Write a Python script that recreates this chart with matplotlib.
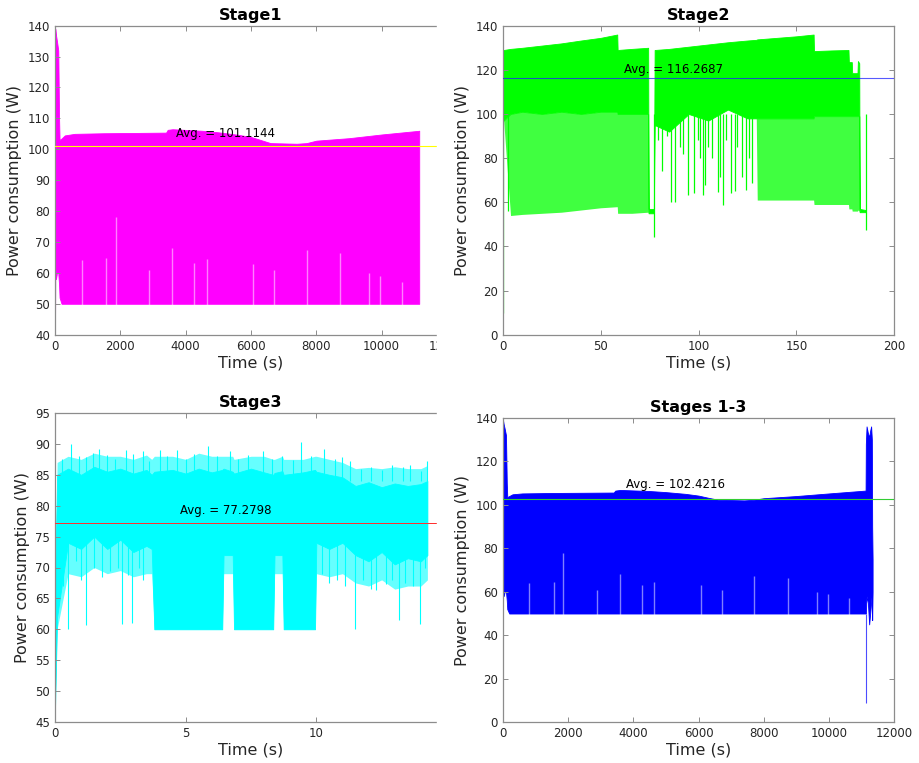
import matplotlib
matplotlib.use("Agg")
import matplotlib.pyplot as plt
from matplotlib.patches import Rectangle
from matplotlib.transforms import Bbox, TransformedBbox

# ---- Stage1 (magenta) ----
s1_t = [0, 8, 30, 60, 100, 125, 140, 200, 300, 600, 1500, 2500, 3400, 3450, 3600,
        4500, 5000, 5600, 6000, 6300, 6600, 7400, 7700, 8000, 9000, 10000, 11150]
s1_hi = [130, 139, 137, 135, 132, 110, 103, 103.5, 104.5, 105, 105.2, 105.3, 105.4, 106.3, 106.5,
         106, 105.5, 104.7, 104, 103, 102, 101.8, 102, 102.8, 103.6, 104.8, 106]
s1_lo = [40, 60, 58, 60, 60, 56, 52, 50, 50, 50, 50, 50, 50, 50, 50,
         50, 50, 50, 50, 50, 50, 50, 50, 50, 50, 50, 50]
s1_avg = 101.1144
# light streaks rising from the 50 W floor (shared by Stage1 and Stages 1-3)
spk_t = [817, 1562, 1858, 2879, 3593, 4266, 4645, 6074, 6707, 7708, 8729, 9617, 9954, 10618]
spk_v = [64.2, 64.7, 78, 61, 68, 63.1, 64.6, 63, 61, 67.4, 66.3, 59.9, 59, 57]

# ---- Stage2 (green) ----
s2_t = [0, 0.5, 4, 10, 20, 30, 40, 50, 58.5, 58.7, 66, 74.3, 74.5, 77.2, 77.6, 85, 95, 105,
        115, 125, 129.5, 130, 140, 150, 158.8, 159, 168, 176.6, 176.8, 178.3, 178.5, 181.2,
        181.4, 182.1, 182.3, 185.3]
s2_hi = [128, 129, 129.5, 130, 131, 132, 133.3, 134.5, 136, 129, 129.5, 130, 57, 57, 129, 129.5,
         130.5, 131.5, 132.5, 133.3, 133.6, 133.8, 134.5, 135.2, 136, 128.5, 128.8, 129, 123.5,
         123.5, 118.5, 118.5, 124, 123, 57, 56.5]
s2_mid = [97, 97, 100, 101, 100, 101, 100, 101, 101, 100, 100, 100, 55, 55, 95, 92, 100, 97,
          102, 98, 98, 98, 98, 98, 98, 99, 99, 99, 99, 99, 99, 99, 99, 99, 55.5, 55.5]
s2_lo = [97, 97, 54, 54.5, 55, 55.5, 56.5, 57.5, 58, 55, 55, 55.5, 55, 55, 95, 92, 100, 97,
         102, 98, 98, 61, 61, 61, 61, 59, 59, 59, 57, 57, 56, 56, 56.5, 56, 55.5, 55.5]
s2_spk_t = [0.2, 2.5, 77.2, 79.5, 81.5, 84, 86, 88, 90.5, 92, 94.8, 97.9, 99.5, 101, 102.1, 103.3,
            105, 107, 110, 110.8, 112.3, 114, 116.4, 118.6, 119.7, 122.3, 124.5, 126, 127.1, 185.3]
s2_spk_v = [10, 56, 44.4, 88, 74, 90, 60.3, 60.3, 85, 82, 63.3, 64, 88, 80, 63.3, 67.7,
            85, 80, 64.8, 71.6, 58.8, 88, 64, 65, 85.2, 71.6, 65.6, 80, 68.6, 47.4]
s2_avg = 116.2687

# ---- Stage3 (cyan) ----
s3_t = [0, 0.08, 0.5, 1, 1.5, 2, 2.5, 3, 3.5, 3.7, 3.8, 4.5, 5, 5.5, 6, 6.4, 6.45, 6.8, 6.85,
        7.5, 8, 8.35, 8.4, 8.7, 8.75, 9.5, 9.95, 10.0, 10.5, 11, 11.5, 12, 12.5, 13, 13.5, 14, 14.25]
s3_hi = [66, 85, 86, 85, 86.3, 85.5, 86, 85.2, 85.8, 85, 85.5, 85.8, 85.2, 86, 85.4, 85.8, 86,
         85.5, 85.2, 86, 85.4, 85, 85.3, 85.6, 85, 85.4, 85.8, 85.5, 85, 84.6, 83.2, 83.8, 83, 83.6,
         83.2, 83.5, 84]
s3_lo = [47, 62, 74, 73, 75, 73, 74.5, 72.5, 73.5, 73, 60, 60, 60, 60, 60, 60, 72, 72, 60,
         60, 60, 60, 72, 72, 60, 60, 60, 74, 73, 74, 72, 71, 72.5, 70.5, 71.5, 71, 72]
# outer, sparser band of the noise
s3_fz_hi = [66, 87, 88, 87.5, 88.5, 88, 88, 87.5, 88.2, 87.5, 88, 88, 87.5, 88.5, 88, 88, 88,
            88, 87.5, 88, 88, 87.5, 87.5, 88, 87.5, 87.5, 88, 88, 87.5, 87, 86, 86.2, 86, 86.3,
            86, 86, 86.5]
s3_fz_lo = [47, 60, 69, 68.5, 70, 69, 69.5, 68.5, 69, 69, 60, 60, 60, 60, 60, 60, 69, 69, 60,
            60, 60, 60, 69, 69, 60, 60, 60, 69, 68.5, 69, 67.5, 67, 68, 66.5, 67, 67, 68]
s3_up_t = [0.25, 0.6, 0.9, 1.2, 1.45, 1.7, 2.0, 2.3, 2.7, 3.0, 3.35, 3.6, 4.0, 4.3, 4.65, 5.0,
           5.3, 5.85, 6.2, 6.7, 7.0, 7.4, 7.95, 8.3, 8.7, 9.1, 9.4, 9.8, 10.3, 10.7, 11.0, 11.3,
           11.7, 12.1, 12.5, 12.9, 13.3, 13.6, 14.0, 14.22]
s3_up_v = [87.5, 90, 88, 87.8, 88.5, 89.2, 88.2, 87.6, 89, 88.4, 88.8, 87.3, 89, 88, 89, 87.5,
           88.3, 89.7, 88, 88.8, 87.5, 88.2, 88.8, 87.6, 88, 87.4, 90.3, 88, 89.2, 87.6, 87.8, 87.3,
           86, 86.3, 85.8, 86.6, 86.2, 86.6, 85.6, 87.3]
s3_dn_t = [0.3, 0.48, 0.8, 1.0, 1.19, 1.5, 1.8, 2.1, 2.4, 2.58, 2.8, 2.96, 3.2, 3.38, 10.2, 10.5,
           10.8, 11.1, 11.48, 11.8, 12.1, 12.3, 12.65, 12.9, 13.18, 13.4, 13.7, 13.97, 14.15]
s3_dn_v = [67, 60, 71, 68, 60.7, 70, 68.5, 69.5, 70, 60.8, 68.8, 61, 70, 68, 69, 67.5,
           68, 67, 60, 68, 66.5, 66.4, 67.3, 68, 61.5, 67.5, 67, 60.8, 70]
s3_avg = 77.2798

# ---- Stages 1-3 (blue) ----
s13_t = [0, 8, 30, 60, 100, 125, 140, 200, 300, 600, 1500, 2500, 3400, 3450, 3600, 4500, 5000,
         5600, 6000, 6300, 6600, 7400, 7700, 8000, 9000, 10000, 11120, 11128, 11150, 11190,
         11230, 11260, 11290, 11312, 11322, 11335]
s13_hi = [132, 139, 137, 135, 132, 110, 103.5, 104, 104.8, 105.2, 105.4, 105.5, 105.6, 106.5,
          106.8, 106.3, 105.8, 105, 104.2, 103.2, 102.3, 102, 102.3, 103, 104, 105.2, 106.5,
          128, 136, 133, 131, 134, 136, 130, 90, 75]
s13_lo = [43, 60, 58, 60, 60, 56, 52, 50, 50, 50, 50, 50, 50, 50, 50, 50, 50, 50, 50, 50, 50,
          50, 50, 50, 50, 50, 50, 50, 58, 55, 45, 50, 55, 60, 47, 60]
s13_dip_t = [11135]
s13_dip_v = [9]
s13_avg = 102.4216

fig = plt.figure(figsize=(9.19, 7.63), dpi=100)
H = 763.0
W = 919.0
# the left panels were cut off at x = 437 px in the source image
cut_box = TransformedBbox(Bbox.from_extents(0, 0, 437 / W, 1), fig.transFigure)


def make_ax(x0, x1, y0, y1):
    return fig.add_axes([x0 / W, 1 - y1 / H, (x1 - x0) / W, (y1 - y0) / H])


def style(ax, title, xlim, ylim, xticks, yticks, cut=False):
    ax.set_xlim(xlim)
    ax.set_ylim(ylim)
    ax.set_xticks(xticks)
    ax.set_yticks(yticks)
    ax.tick_params(direction="in", top=True, right=True, length=3.5, width=0.7,
                   colors="#8c8c8c", labelcolor="#262626", labelsize=8.5)
    for s in ax.spines.values():
        s.set_color("#8c8c8c")
        s.set_linewidth(0.9)
    ax.set_title(title, fontsize=11.5, fontweight="bold", pad=4)
    ax.set_xlabel("Time (s)", fontsize=11.5, color="#262626", labelpad=2)
    ax.set_ylabel("Power consumption (W)", fontsize=11.5, color="#262626")
    if cut:
        for lbl in ax.get_xticklabels():
            lbl.set_clip_box(cut_box)
            lbl.set_clip_on(True)


# Stage1
ax1 = make_ax(55, 447, 25.7, 334.7)
ax1.fill_between(s1_t, s1_lo, s1_hi, color="#ff00ff", lw=0.6)
ax1.vlines(spk_t, 49.5, spk_v, colors="white", lw=1.0, alpha=0.5)
ax1.axhline(s1_avg, color="#ffff00", lw=0.8, zorder=5)
ax1.text(3700, 105, "Avg. = %.4f" % s1_avg, fontsize=8.5, va="center")
style(ax1, "Stage1", (0, 12000), (40, 140), range(0, 12001, 2000), range(40, 141, 10), cut=True)

# Stage2
ax2 = make_ax(502.7, 894.3, 25.7, 334.7)
ax2.fill_between(s2_t, s2_lo, s2_mid, color="#00ff00", alpha=0.75, lw=0)
ax2.fill_between(s2_t, s2_mid, s2_hi, color="#00ff00", lw=0.6)
ax2.vlines(s2_spk_t, s2_spk_v, [100] * len(s2_spk_t), colors="#00ff00", lw=0.9)
ax2.axhline(s2_avg, color="#2020ff", lw=0.8, alpha=0.75, zorder=5)
ax2.text(62, 120.2, "Avg. = %.4f" % s2_avg, fontsize=8.5, va="center")
style(ax2, "Stage2", (0, 200), (0, 140), range(0, 201, 50), range(0, 141, 20))

# Stage3
ax3 = make_ax(55, 447, 413, 722)
ax3.fill_between(s3_t, s3_fz_lo, s3_fz_hi, color="#00ffff", alpha=0.6, lw=0)
ax3.fill_between(s3_t, s3_lo, s3_hi, color="#00ffff", lw=0.6)
ax3.vlines(s3_up_t, [84] * len(s3_up_t), s3_up_v, colors="#00ffff", lw=0.8)
ax3.vlines(s3_dn_t, s3_dn_v, [75] * len(s3_dn_t), colors="#00ffff", lw=0.8)
ax3.axhline(s3_avg, color="#ff3030", lw=0.6, zorder=5, antialiased=False)
ax3.text(4.77, 79.25, "Avg. = %.4f" % s3_avg, fontsize=8.5, va="center")
style(ax3, "Stage3", (0, 15), (45, 95), range(0, 16, 5), range(45, 96, 5), cut=True)

# Stages 1-3
ax4 = make_ax(502.7, 894.3, 417.7, 722.3)
ax4.fill_between(s13_t, s13_lo, s13_hi, color="#0000ff", lw=0.6)
ax4.vlines(spk_t, 49.5, spk_v, colors="white", lw=1.0, alpha=0.5)
ax4.vlines(s13_dip_t, s13_dip_v, 50, colors="#0000ff", lw=0.8, alpha=0.7)
ax4.axhline(s13_avg, color="#33cc33", lw=0.8, zorder=5)
ax4.text(3778, 109.2, "Avg. = %.4f" % s13_avg, fontsize=8.5, va="center")
style(ax4, "Stages 1-3", (0, 12000), (0, 140), range(0, 12001, 2000), range(0, 141, 20))

fig.add_artist(Rectangle((437 / W, 0), 15 / W, 1, transform=fig.transFigure,
                         color="white", zorder=10))

fig.savefig("out.png", dpi=100)
